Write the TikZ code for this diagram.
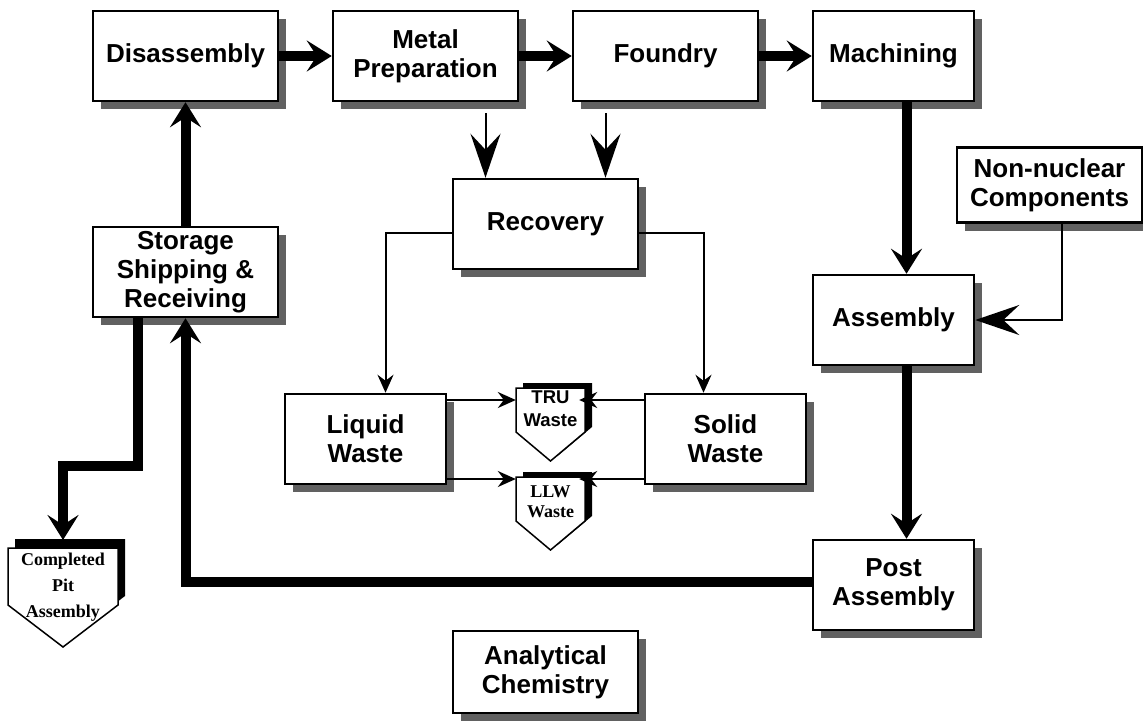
\documentclass[tikz,border=0pt]{standalone}
\usepackage{fontspec}
\setmainfont{Liberation Serif}
\setsansfont{Liberation Sans}
\usepackage{tikz}
\usetikzlibrary{positioning,shadows,arrows.meta}

\begin{document}
\begin{tikzpicture}[x=1pt, y=-1pt, node distance=52.5pt,
	proc/.style={draw, line width=2.5pt, fill=white, minimum width=185pt, minimum height=90pt, inner sep=2pt, align=center, font=\sffamily\bfseries\fontsize{26}{29}\selectfont, drop shadow={shadow xshift=8pt, shadow yshift=-8pt, fill=black!62, opacity=1}},
	procn/.style={proc, minimum width=161pt},
	bin/.style={anchor=north, minimum width=69pt, inner xsep=0pt, align=center},
	mainflow/.style={line width=10pt, -{Stealth[length=25pt, width=31pt, inset=10pt]}},
	feed/.style={line width=2pt, -{Stealth[length=44pt, width=30pt, inset=16pt]}},
	drain/.style={line width=2pt, -{Stealth[length=18pt, width=16pt, inset=6pt]}}]
	\useasboundingbox (0,0) rectangle (1143,721);
	
	% waste bins
	\foreach \x/\y/\w/\h/\t/\s in {516/388/69/44/29/5, 516/477/69/44/29/5, 8/548/110/57/42/9}{
		\fill (\x+7,\y-\s) -- ++(\w,0) -- ++(0,\h) -- ++(-\w/2,\t) -- ++(-\w/2,-\t) -- cycle;
		\filldraw[fill=white, line width=1.5pt] (\x,\y) -- ++(\w,0) -- ++(0,\h) -- ++(-\w/2,\t) -- ++(-\w/2,-\t) -- cycle;
	}
	
	\node[proc] (dis) at (185.5,56) {Disassembly};
	\node[proc, right=of dis] (metal) {Metal\\Preparation};
	\node[proc, right=of metal] (found) {Foundry};
	\node[procn, right=of found] (mach) {Machining};
	\node[proc] (recov) at (545.5,224) {Recovery};
	\node[proc, minimum height=75pt] (nonnuc) at (1049.5,185) {Non-nuclear\\Components};
	\node[proc] (stor) at (185.5,272) {Storage\\Shipping \&\\Receiving};
	\node[procn] (assem) at (893.5,320) {Assembly};
	\node[procn] (liquid) at (365.5,439) {Liquid\\Waste};
	\node[procn] (solid) at (725.5,439) {Solid\\Waste};
	\node[procn] (post) at (893.5,585) {Post\\Assembly};
	\node[proc, minimum height=82pt] (anal) at (545.5,672) {Analytical\\Chemistry};
	
	\node[bin, inner ysep=3pt, font=\sffamily\bfseries\fontsize{18.5}{23}\selectfont] (tru) at (550.5,388) {TRU\\Waste};
	\node[bin, inner ysep=9pt, font=\rmfamily\bfseries\fontsize{18}{20}\selectfont] (llw) at (550.5,477) {LLW\\Waste};
	\node[bin, minimum width=110pt, inner ysep=13pt, font=\rmfamily\bfseries\fontsize{18}{26}\selectfont] (pit) at (63,540) {Completed\\Pit\\Assembly};
	
	% main line
	\draw[mainflow] (dis) -- (metal);
	\draw[mainflow] (metal) -- (found);
	\draw[mainflow] (found) -- (mach);
	\draw[mainflow] ([xshift=13pt]mach.south) -- ([xshift=13pt]assem.north);
	\draw[mainflow] ([xshift=13pt]assem.south) -- ([xshift=13pt]post.north);
	\draw[mainflow] ([yshift=3pt]post.west) -| (stor.south);
	\draw[mainflow] (stor.north) -- (dis.south);
	\draw[mainflow] ([xshift=-48pt]stor.south) -- ++(0,148) -| (pit.north);
	
	% recovery
	\draw[feed] ([xshift=60pt,yshift=-11pt]metal.south) -- ([xshift=-60pt]recov.north);
	\draw[feed] ([xshift=-60pt,yshift=-11pt]found.south) -- ([xshift=60pt]recov.north);
	\draw[drain] ([yshift=-9pt]recov.west) -| ([xshift=20pt]liquid.north);
	\draw[drain] ([yshift=-9pt]recov.east) -| ([xshift=-22pt]solid.north);
	
	% waste
	\draw[drain] (liquid.east |- 0,400) -- (tru.west |- 0,400);
	\draw[drain] (liquid.east |- 0,479) -- (llw.west |- 0,479);
	\draw[drain, shorten >=-6pt] (solid.west |- 0,400) -- (tru.east |- 0,400);
	\draw[drain, shorten >=-6pt] (solid.west |- 0,479) -- (llw.east |- 0,479);
	
	\draw[feed] ([xshift=12pt]nonnuc.south) |- (assem.east);
\end{tikzpicture}
\end{document}
